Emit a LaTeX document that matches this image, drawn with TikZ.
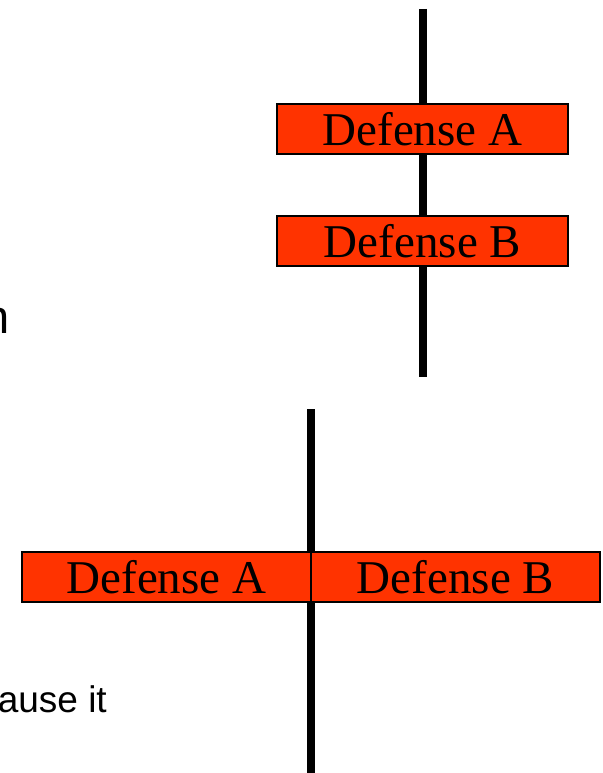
\documentclass[tikz,border=0pt]{standalone}
\usepackage{fontspec}
\setmainfont{Liberation Serif}
\newfontfamily\arialfont{Liberation Sans}
\definecolor{defred}{HTML}{FF3300}
\begin{document}
\begin{tikzpicture}[x=1pt,y=-1pt,
  defbox/.style={rectangle, draw=black, line width=1.6pt, fill=defred,
    inner sep=0pt, minimum height=50pt,
    font=\fontsize{47}{47}\selectfont},
  barrier/.style={line width=8pt, black},
  bodytext/.style={anchor=base east, inner sep=0pt}]
\useasboundingbox (0,0) rectangle (602,773);
\clip (0,0) rectangle (602,773);

% stacked defenses (in series)
\coordinate (topA) at (423,9);
\coordinate (botA) at (423,377);
\draw[barrier] (topA) -- (botA);
\node[defbox, minimum width=291pt] (sA) at (422.5,129) {Defense A};
\node[defbox, minimum width=291pt] (sB) at (422.5,241) {Defense B};

% side-by-side defenses (in parallel)
\coordinate (topB) at (311,409);
\coordinate (botB) at (311,773);
\draw[barrier] (topB) -- (botB);
\node[defbox, minimum width=289pt] (pA) at (166.5,577) {Defense A};
\node[defbox, minimum width=289pt] (pB) at (455.5,577) {Defense B};

% body text running off the left edge
\node[bodytext, font=\arialfont\fontsize{47}{47}\selectfont] (tn) at (10,333) {n};
\node[bodytext, font=\arialfont\fontsize{37}{37}\selectfont] (tause) at (107,712) {ause it};
\end{tikzpicture}
\end{document}
